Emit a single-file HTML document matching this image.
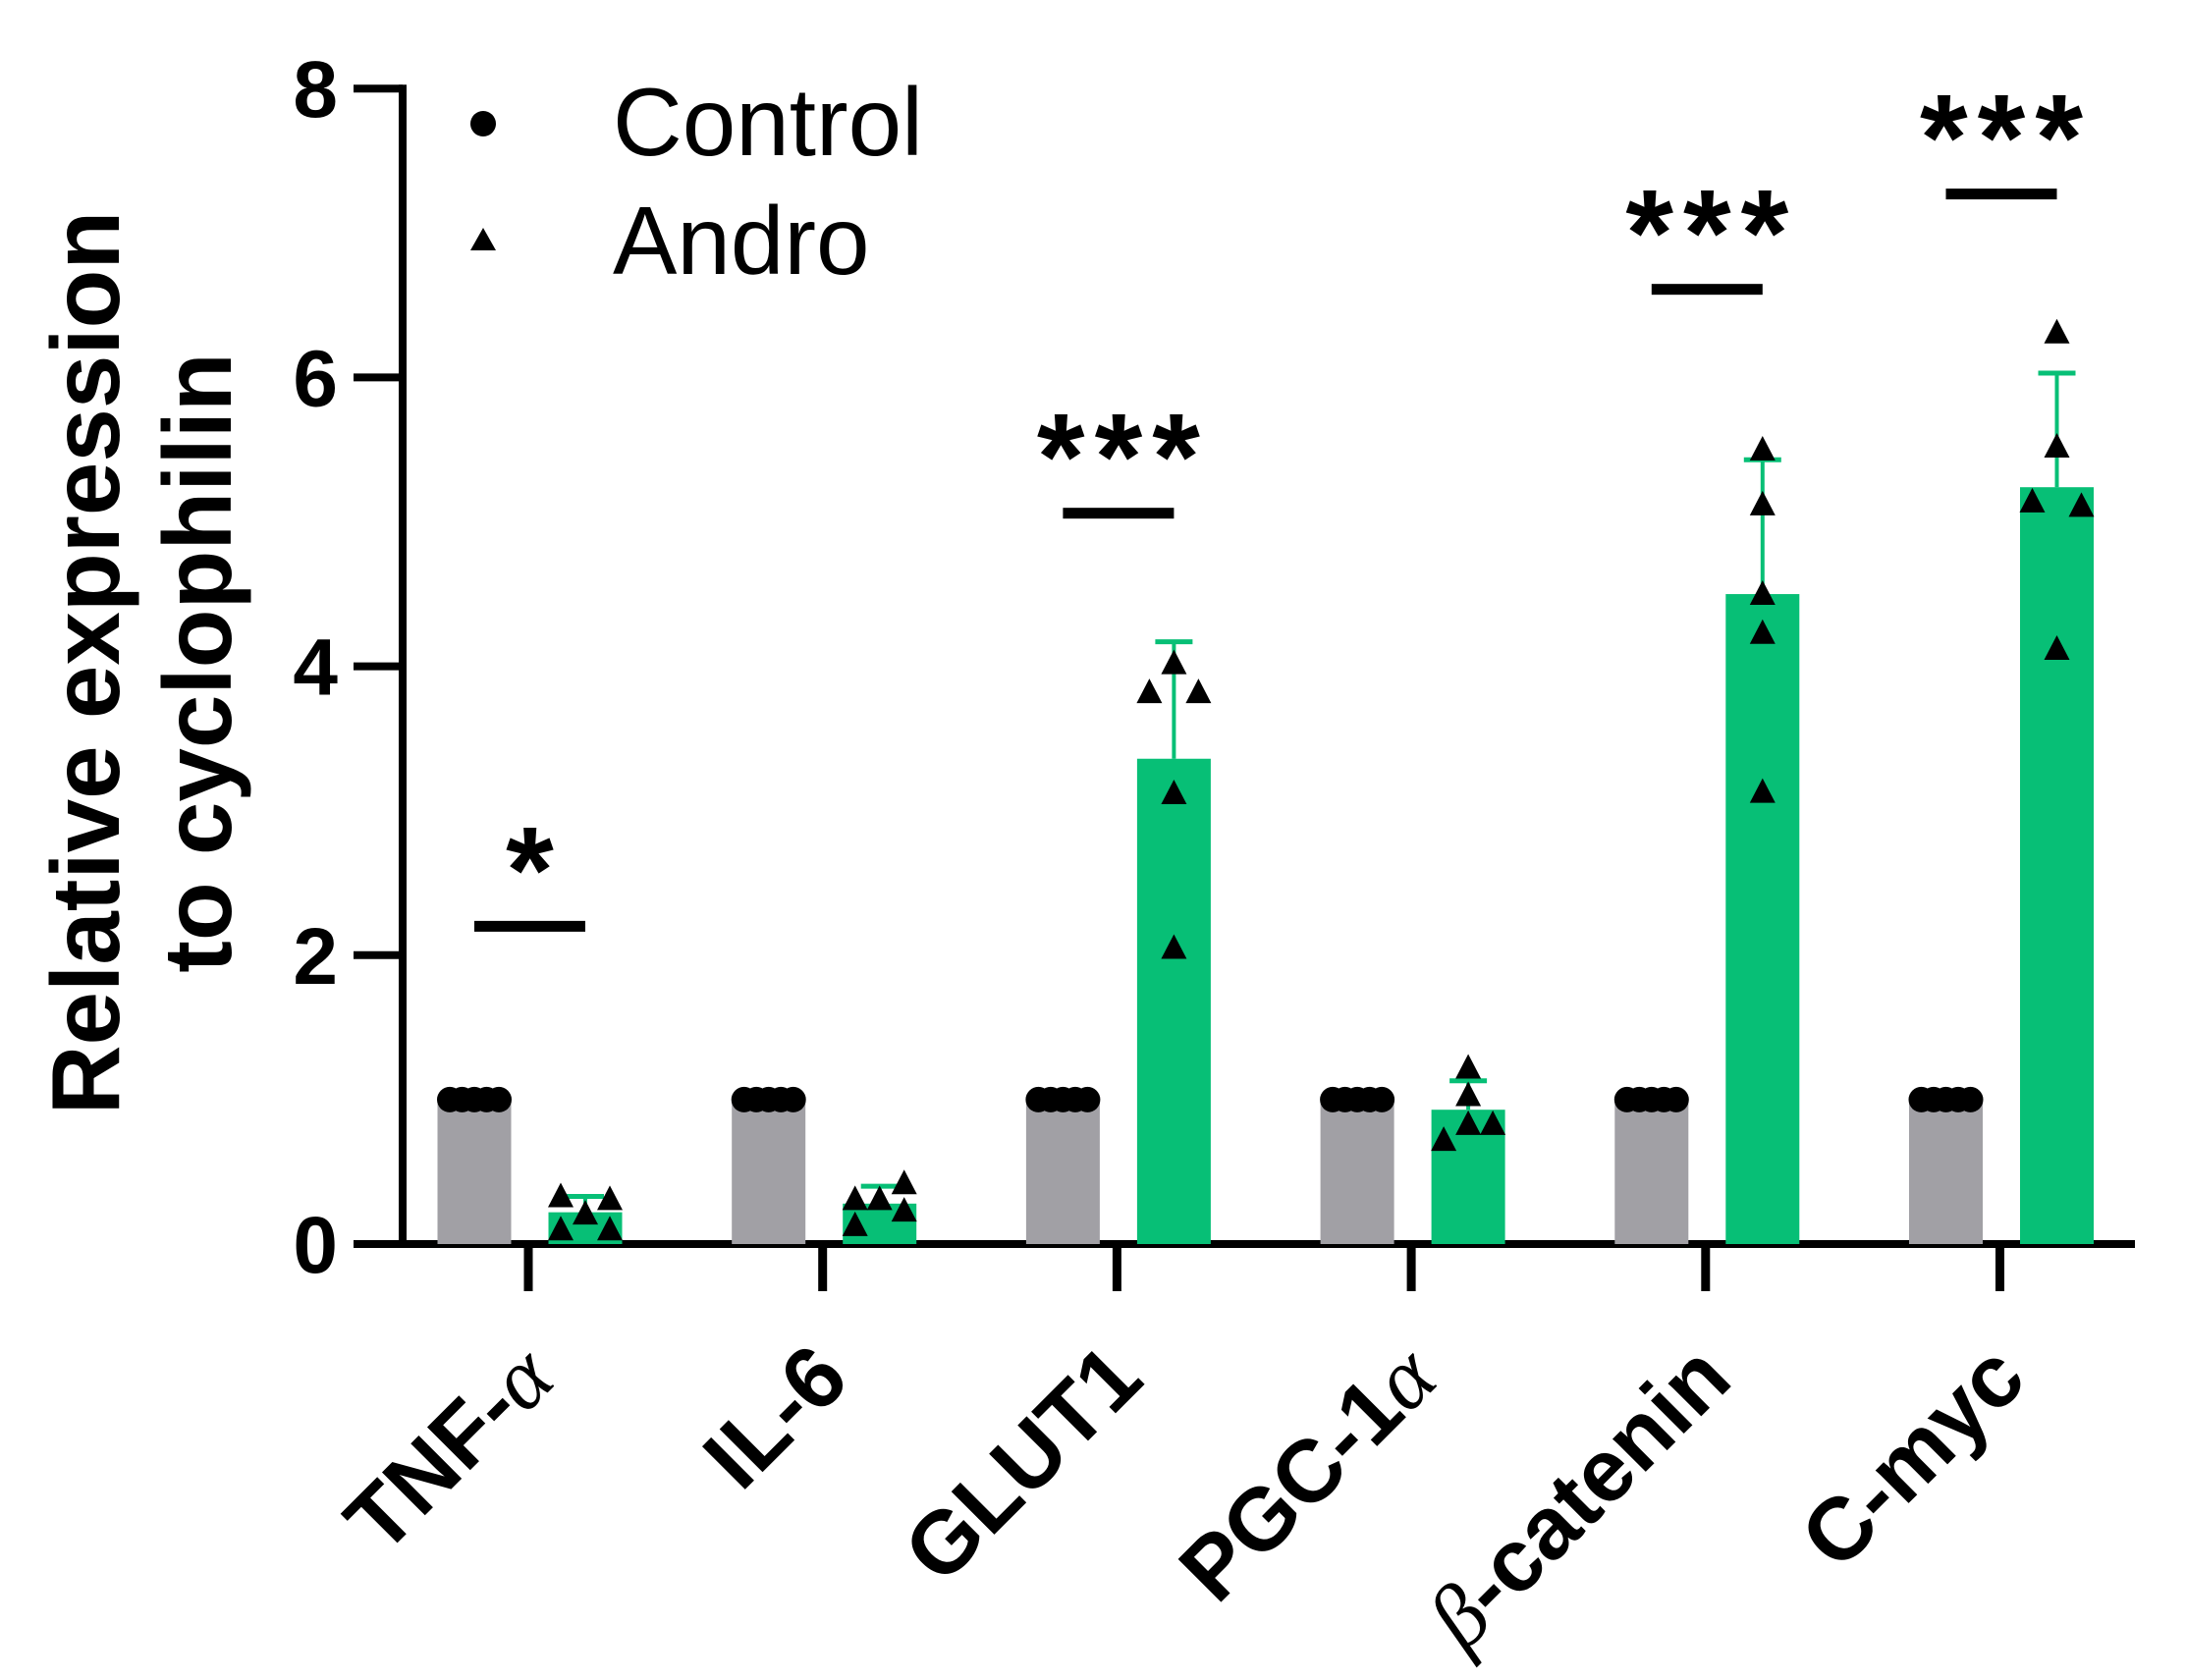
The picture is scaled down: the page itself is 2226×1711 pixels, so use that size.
<!DOCTYPE html>
<html><head><meta charset="utf-8"><style>
html,body{margin:0;padding:0;background:#fff;}
svg{display:block;}
</style></head><body>
<svg id="chart" width="2226" height="1711" viewBox="0 0 2226 1711" xmlns="http://www.w3.org/2000/svg" font-family="'Liberation Sans', Arial, sans-serif">
<g id="axes"></g>
<g id="bars"></g>
<g id="marks"></g>
<g id="sig"></g>
<g id="legend">
  <circle cx="492" cy="126" r="13" fill="#000"/>
  <text x="624" y="158" font-size="98">Control</text>
  <polygon points="492,232 479,255 505,255" fill="#000"/>
  <text x="624" y="279" font-size="98">Andro</text>
</g>
<g transform="translate(143,675) rotate(-90)" font-weight="bold" font-size="98" text-anchor="middle">
  <text x="0" y="-22">Relative expression</text>
  <text x="0" y="92">to cyclophilin</text>
</g>
</svg>
<script>
const categories = ["TNF-α","IL-6","GLUT1","PGC-1α","β-catenin","C-myc"];
const controlMeans = [1,1,1,1,1,1];
const androMeans = [0.22,0.28,3.36,0.93,4.50,5.24];
const androErr = [0.11,0.12,0.81,0.20,0.93,0.79];
const androPoints = [
  [0.10,0.33,0.21,0.31,0.10],
  [0.13,0.31,0.31,0.42,0.23],
  [4.02,3.82,3.82,3.12,2.05],
  [1.22,1.03,0.83,0.83,0.72],
  [5.50,5.12,4.50,4.23,3.13],
  [6.31,5.52,5.14,5.11,4.12]
];
const androPointSide = [
  [-1,-1,0,1,1],
  [-1,-1,0,1,1],
  [0,-1,1,0,0],
  [0,0,0,1,-1],
  [0,0,0,0,0],
  [0,0,-1,1,0]
];
const sigLabels = ["*","","***","","***","***"];
const sigLevels = [2.2,null,5.06,null,6.61,7.27];
const yTicks = [0,2,4,6,8];

const NS="http://www.w3.org/2000/svg";
const X0=538, STEP=299.7, Y0=1267, UNIT=147.1;
const y = v => Y0 - v*UNIT;
const xc = i => X0 + STEP*i;
function mk(parent, tag, attrs){const e=document.createElementNS(NS,tag);for(const k in attrs)e.setAttribute(k,attrs[k]);parent.appendChild(e);return e;}
const axes=document.getElementById('axes'), bars=document.getElementById('bars'), marks=document.getElementById('marks'), sig=document.getElementById('sig');

let e=mk(axes,'line',{x1:410,y1:y(8)-4,x2:410,y2:Y0+4,stroke:'#000','stroke-width':8});


e=mk(axes,'line',{x1:360,y1:Y0,x2:2174,y2:Y0,stroke:'#000','stroke-width':8});


yTicks.forEach(t=>{
  let l=mk(axes,'line',{x1:360,y1:y(t),x2:410,y2:y(t),stroke:'#000','stroke-width':8});
  
  
  let tx=mk(axes,'text',{x:344,y:y(t)+29,'font-size':82,'font-weight':'bold','text-anchor':'end'});
  tx.textContent=t;
  
  
});
categories.forEach((c,i)=>{
  let l=mk(axes,'line',{x1:xc(i),y1:Y0,x2:xc(i),y2:1315,stroke:'#000','stroke-width':9});
  
  
  const ex=xc(i)+30, ey=1408;
  let tx=mk(axes,'text',{x:ex,y:ey,'font-size':90,'font-weight':'bold','text-anchor':'end',transform:`rotate(-45 ${ex} ${ey})`});
  const greek=c.match(/[αβ]/);
  if(greek){
    const parts=c.split(greek[0]);
    if(parts[0]){const s=mk(tx,'tspan',{});s.textContent=parts[0];}
    const g=mk(tx,'tspan',{'font-family':"'Liberation Serif', serif",'font-style':'italic','font-weight':'normal'});g.textContent=greek[0];
    if(parts[1]){const s=mk(tx,'tspan',{});s.textContent=parts[1];}
  } else tx.textContent=c;
  
  
});

const BW=75, OFFC=-55, OFFA=58;
categories.forEach((c,i)=>{
  const cx=xc(i)+OFFC, ax=xc(i)+OFFA;
  let b=mk(bars,'rect',{x:cx-BW/2,y:y(controlMeans[i]),width:BW,height:Y0-y(controlMeans[i]),fill:'#a1a0a5'});
  
  
  b=mk(bars,'rect',{x:ax-BW/2,y:y(androMeans[i]),width:BW,height:Y0-y(androMeans[i]),fill:'#07bf76'});
  
  
  const top=androMeans[i]+androErr[i];
  let el=mk(bars,'line',{x1:ax,y1:y(androMeans[i]),x2:ax,y2:y(top),stroke:'#07bf76','stroke-width':4});
  
  
  el=mk(bars,'line',{x1:ax-19,y1:y(top),x2:ax+19,y2:y(top),stroke:'#07bf76','stroke-width':5});
  
  
  for(let k=-2;k<=2;k++){
    let d=mk(marks,'circle',{cx:cx+k*12.5,cy:y(controlMeans[i]),r:13,fill:'#000'});
    
    
  }
  androPoints[i].forEach((v,k)=>{
    const px=ax+androPointSide[i][k]*25, py=y(v);
    let t=mk(marks,'polygon',{points:`${px},${py-14} ${px-13},${py+11} ${px+13},${py+11}`,fill:'#000'});
    
    
  });
  if(sigLevels[i]!==null){
    const ly=y(sigLevels[i]);
    let l=mk(sig,'rect',{x:cx,y:ly-5.5,width:ax-cx,height:11,fill:'#000'});
    
    
    let s=mk(sig,'text',{x:(cx+ax)/2+5,y:ly-14,'font-size':125,'font-weight':'bold','letter-spacing':10,'text-anchor':'middle'});
    s.textContent=sigLabels[i];
    
    
  }
});
</script>
</body></html>
